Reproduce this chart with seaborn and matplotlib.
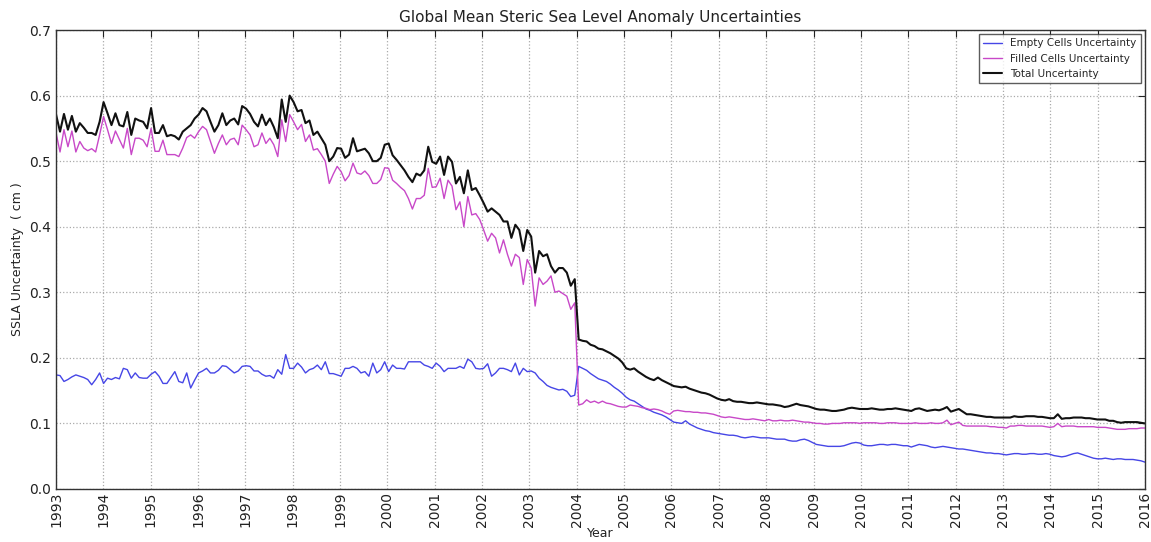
import numpy as np
import pandas as pd
import seaborn as sns
import matplotlib.pyplot as plt
from matplotlib.ticker import FormatStrFormatter

# monthly values, one row per year 1993..2015 (Jan..Dec)
empty_cells = [
    [0.174, 0.173, 0.164, 0.167, 0.171, 0.174, 0.172, 0.170, 0.167, 0.159, 0.167, 0.177],  # 1993
    [0.161, 0.169, 0.167, 0.170, 0.168, 0.184, 0.182, 0.169, 0.177, 0.170, 0.169, 0.169],  # 1994
    [0.175, 0.179, 0.172, 0.161, 0.161, 0.170, 0.179, 0.164, 0.162, 0.177, 0.154, 0.166],  # 1995
    [0.177, 0.180, 0.184, 0.177, 0.177, 0.181, 0.188, 0.187, 0.182, 0.177, 0.180, 0.187],  # 1996
    [0.188, 0.187, 0.180, 0.180, 0.175, 0.172, 0.173, 0.169, 0.182, 0.175, 0.205, 0.184],  # 1997
    [0.184, 0.192, 0.186, 0.177, 0.182, 0.184, 0.189, 0.182, 0.194, 0.176, 0.176, 0.174],  # 1998
    [0.172, 0.184, 0.184, 0.187, 0.184, 0.177, 0.179, 0.172, 0.192, 0.177, 0.182, 0.194],  # 1999
    [0.179, 0.189, 0.184, 0.184, 0.183, 0.194, 0.194, 0.194, 0.194, 0.189, 0.187, 0.184],  # 2000
    [0.192, 0.187, 0.179, 0.184, 0.184, 0.184, 0.187, 0.184, 0.198, 0.194, 0.184, 0.183],  # 2001
    [0.184, 0.191, 0.172, 0.177, 0.184, 0.184, 0.182, 0.179, 0.192, 0.174, 0.184, 0.179],  # 2002
    [0.180, 0.177, 0.169, 0.164, 0.158, 0.155, 0.153, 0.151, 0.152, 0.149, 0.141, 0.143],  # 2003
    [0.187, 0.184, 0.181, 0.176, 0.172, 0.168, 0.166, 0.164, 0.160, 0.155, 0.151, 0.146],  # 2004
    [0.140, 0.136, 0.134, 0.130, 0.126, 0.122, 0.120, 0.117, 0.115, 0.113, 0.110, 0.106],  # 2005
    [0.102, 0.101, 0.100, 0.104, 0.099, 0.096, 0.093, 0.091, 0.089, 0.088, 0.086, 0.085],  # 2006
    [0.084, 0.083, 0.082, 0.082, 0.081, 0.079, 0.078, 0.079, 0.080, 0.079, 0.078, 0.078],  # 2007
    [0.078, 0.077, 0.076, 0.076, 0.076, 0.074, 0.073, 0.073, 0.075, 0.076, 0.074, 0.071],  # 2008
    [0.068, 0.067, 0.066, 0.065, 0.065, 0.065, 0.065, 0.066, 0.068, 0.070, 0.071, 0.070],  # 2009
    [0.067, 0.066, 0.066, 0.067, 0.068, 0.068, 0.067, 0.068, 0.068, 0.067, 0.066, 0.066],  # 2010
    [0.064, 0.066, 0.068, 0.067, 0.066, 0.064, 0.063, 0.064, 0.065, 0.064, 0.063, 0.062],  # 2011
    [0.061, 0.061, 0.060, 0.059, 0.058, 0.057, 0.056, 0.055, 0.055, 0.054, 0.054, 0.053],  # 2012
    [0.052, 0.053, 0.054, 0.054, 0.053, 0.053, 0.054, 0.054, 0.053, 0.053, 0.054, 0.053],  # 2013
    [0.051, 0.050, 0.049, 0.050, 0.052, 0.054, 0.055, 0.053, 0.051, 0.049, 0.047, 0.046],  # 2014
    [0.046, 0.047, 0.046, 0.045, 0.046, 0.046, 0.045, 0.045, 0.045, 0.044, 0.043, 0.041],  # 2015
]

filled_cells = [
    [0.543, 0.514, 0.548, 0.522, 0.546, 0.514, 0.530, 0.520, 0.516, 0.519, 0.514, 0.540],  # 1993
    [0.568, 0.548, 0.527, 0.546, 0.533, 0.520, 0.550, 0.510, 0.535, 0.535, 0.532, 0.522],  # 1994
    [0.550, 0.515, 0.515, 0.532, 0.510, 0.510, 0.510, 0.507, 0.520, 0.536, 0.540, 0.535],  # 1995
    [0.545, 0.553, 0.548, 0.530, 0.512, 0.527, 0.540, 0.525, 0.533, 0.535, 0.525, 0.555],  # 1996
    [0.548, 0.540, 0.522, 0.525, 0.543, 0.527, 0.535, 0.525, 0.507, 0.563, 0.530, 0.571],  # 1997
    [0.560, 0.548, 0.556, 0.530, 0.540, 0.517, 0.519, 0.510, 0.500, 0.466, 0.480, 0.492],  # 1998
    [0.484, 0.470, 0.478, 0.497, 0.482, 0.480, 0.485, 0.478, 0.466, 0.466, 0.472, 0.490],  # 1999
    [0.489, 0.471, 0.466, 0.460, 0.455, 0.443, 0.427, 0.443, 0.443, 0.448, 0.489, 0.460],  # 2000
    [0.461, 0.474, 0.443, 0.471, 0.462, 0.426, 0.438, 0.400, 0.446, 0.418, 0.420, 0.411],  # 2001
    [0.395, 0.378, 0.390, 0.383, 0.360, 0.380, 0.358, 0.340, 0.358, 0.353, 0.312, 0.350],  # 2002
    [0.337, 0.279, 0.322, 0.312, 0.317, 0.325, 0.300, 0.302, 0.298, 0.294, 0.274, 0.284],  # 2003
    [0.128, 0.130, 0.136, 0.132, 0.134, 0.131, 0.134, 0.131, 0.130, 0.128, 0.126, 0.125],  # 2004
    [0.125, 0.128, 0.127, 0.126, 0.124, 0.123, 0.121, 0.122, 0.121, 0.119, 0.116, 0.114],  # 2005
    [0.119, 0.120, 0.119, 0.118, 0.118, 0.117, 0.117, 0.116, 0.116, 0.115, 0.114, 0.112],  # 2006
    [0.110, 0.109, 0.110, 0.109, 0.108, 0.107, 0.106, 0.106, 0.107, 0.106, 0.105, 0.104],  # 2007
    [0.106, 0.104, 0.104, 0.105, 0.104, 0.104, 0.105, 0.104, 0.103, 0.102, 0.102, 0.101],  # 2008
    [0.100, 0.100, 0.099, 0.099, 0.100, 0.100, 0.100, 0.101, 0.101, 0.101, 0.101, 0.100],  # 2009
    [0.101, 0.101, 0.101, 0.101, 0.100, 0.100, 0.101, 0.101, 0.101, 0.100, 0.100, 0.100],  # 2010
    [0.100, 0.101, 0.100, 0.100, 0.100, 0.101, 0.100, 0.100, 0.101, 0.105, 0.098, 0.100],  # 2011
    [0.102, 0.097, 0.096, 0.096, 0.096, 0.096, 0.096, 0.096, 0.095, 0.095, 0.094, 0.094],  # 2012
    [0.093, 0.096, 0.096, 0.097, 0.097, 0.096, 0.096, 0.096, 0.096, 0.096, 0.095, 0.094],  # 2013
    [0.095, 0.100, 0.095, 0.096, 0.096, 0.096, 0.095, 0.095, 0.095, 0.095, 0.095, 0.094],  # 2014
    [0.094, 0.094, 0.093, 0.092, 0.091, 0.091, 0.091, 0.092, 0.092, 0.092, 0.093, 0.093],  # 2015
]

total = [
    [0.571, 0.545, 0.572, 0.548, 0.569, 0.545, 0.558, 0.551, 0.543, 0.543, 0.540, 0.560],  # 1993
    [0.590, 0.573, 0.555, 0.573, 0.555, 0.553, 0.575, 0.540, 0.565, 0.562, 0.560, 0.550],  # 1994
    [0.581, 0.543, 0.543, 0.555, 0.538, 0.540, 0.538, 0.533, 0.545, 0.550, 0.555, 0.565],  # 1995
    [0.571, 0.581, 0.576, 0.560, 0.545, 0.555, 0.573, 0.555, 0.562, 0.565, 0.556, 0.584],  # 1996
    [0.580, 0.572, 0.560, 0.553, 0.571, 0.555, 0.565, 0.552, 0.535, 0.594, 0.560, 0.600],  # 1997
    [0.590, 0.576, 0.578, 0.558, 0.562, 0.540, 0.545, 0.535, 0.525, 0.500, 0.507, 0.520],  # 1998
    [0.519, 0.505, 0.510, 0.535, 0.515, 0.517, 0.519, 0.512, 0.500, 0.500, 0.505, 0.525],  # 1999
    [0.527, 0.509, 0.502, 0.494, 0.486, 0.476, 0.468, 0.481, 0.478, 0.486, 0.522, 0.499],  # 2000
    [0.496, 0.507, 0.479, 0.507, 0.499, 0.466, 0.476, 0.451, 0.486, 0.456, 0.459, 0.448],  # 2001
    [0.436, 0.423, 0.428, 0.423, 0.418, 0.408, 0.408, 0.383, 0.403, 0.395, 0.363, 0.395],  # 2002
    [0.385, 0.330, 0.363, 0.355, 0.358, 0.340, 0.330, 0.337, 0.337, 0.330, 0.310, 0.320],  # 2003
    [0.228, 0.226, 0.225, 0.220, 0.218, 0.214, 0.213, 0.210, 0.207, 0.203, 0.199, 0.193],  # 2004
    [0.184, 0.182, 0.184, 0.179, 0.175, 0.171, 0.168, 0.166, 0.170, 0.166, 0.163, 0.160],  # 2005
    [0.157, 0.156, 0.155, 0.156, 0.153, 0.151, 0.149, 0.147, 0.146, 0.144, 0.141, 0.138],  # 2006
    [0.136, 0.135, 0.137, 0.134, 0.133, 0.133, 0.132, 0.131, 0.131, 0.132, 0.131, 0.130],  # 2007
    [0.129, 0.129, 0.128, 0.127, 0.125, 0.126, 0.128, 0.130, 0.128, 0.127, 0.126, 0.124],  # 2008
    [0.122, 0.121, 0.121, 0.120, 0.119, 0.119, 0.120, 0.121, 0.123, 0.124, 0.123, 0.122],  # 2009
    [0.122, 0.122, 0.123, 0.122, 0.121, 0.121, 0.122, 0.122, 0.123, 0.122, 0.121, 0.120],  # 2010
    [0.119, 0.122, 0.123, 0.121, 0.119, 0.120, 0.121, 0.120, 0.122, 0.125, 0.118, 0.120],  # 2011
    [0.122, 0.118, 0.114, 0.114, 0.113, 0.112, 0.111, 0.110, 0.110, 0.109, 0.109, 0.109],  # 2012
    [0.109, 0.109, 0.111, 0.110, 0.110, 0.111, 0.111, 0.111, 0.110, 0.110, 0.109, 0.108],  # 2013
    [0.108, 0.114, 0.107, 0.108, 0.108, 0.109, 0.109, 0.109, 0.108, 0.108, 0.107, 0.106],  # 2014
    [0.106, 0.106, 0.104, 0.104, 0.102, 0.101, 0.102, 0.102, 0.102, 0.102, 0.101, 0.100],  # 2015
]

labels = ['Empty Cells Uncertainty', 'Filled Cells Uncertainty', 'Total Uncertainty']
colors = ['#4646e6', '#c848c8', '#111111']
widths = [1.0, 1.0, 1.5]

n = 12 * len(total)
year = np.linspace(1993, 2016, n)

df = pd.DataFrame({'year': year,
                   labels[0]: np.ravel(empty_cells),
                   labels[1]: np.ravel(filled_cells),
                   labels[2]: np.ravel(total)})
df = df.melt(id_vars='year', var_name='series', value_name='ssla')

sns.set_style('white')
plt.rcParams['font.family'] = ['DejaVu Sans']

fig = plt.figure(figsize=(11.51, 5.42), dpi=100)
ax = fig.add_axes([0.0487, 0.0978, 0.946, 0.8468])

for lab, col, lw in zip(labels, colors, widths):
    sns.lineplot(data=df[df['series'] == lab], x='year', y='ssla', color=col,
                 linewidth=lw, label=lab, ax=ax)

ax.set_xlim(1993, 2016)
ax.set_ylim(0, 0.7)
ax.set_xticks(range(1993, 2017))
ax.set_xticklabels([str(y) for y in range(1993, 2017)], rotation=90)
ax.set_yticks(np.arange(0, 0.71, 0.1))
ax.yaxis.set_major_formatter(FormatStrFormatter('%.1f'))
ax.tick_params(direction='in', top=True, right=True, length=5, labelsize=10, colors='#222222')
ax.tick_params(axis='x', pad=2)
ax.grid(True, linestyle=':', color='#aaaaaa', linewidth=0.9)
for s in ax.spines.values():
    s.set_color('#333333')
    s.set_linewidth(1.0)

ax.set_title('Global Mean Steric Sea Level Anomaly Uncertainties', fontsize=11, color='#222222')
ax.set_xlabel('Year', fontsize=9, color='#222222', labelpad=0)
ax.set_ylabel('SSLA Uncertainty  ( cm )', fontsize=9, color='#222222')

leg = ax.legend(loc='upper right', fontsize=7.5, handlelength=1.8, frameon=True,
                fancybox=False, borderaxespad=0.4)
leg.get_frame().set_edgecolor('#333333')
leg.get_frame().set_linewidth(1.0)

fig.savefig('out.png', dpi=100)
